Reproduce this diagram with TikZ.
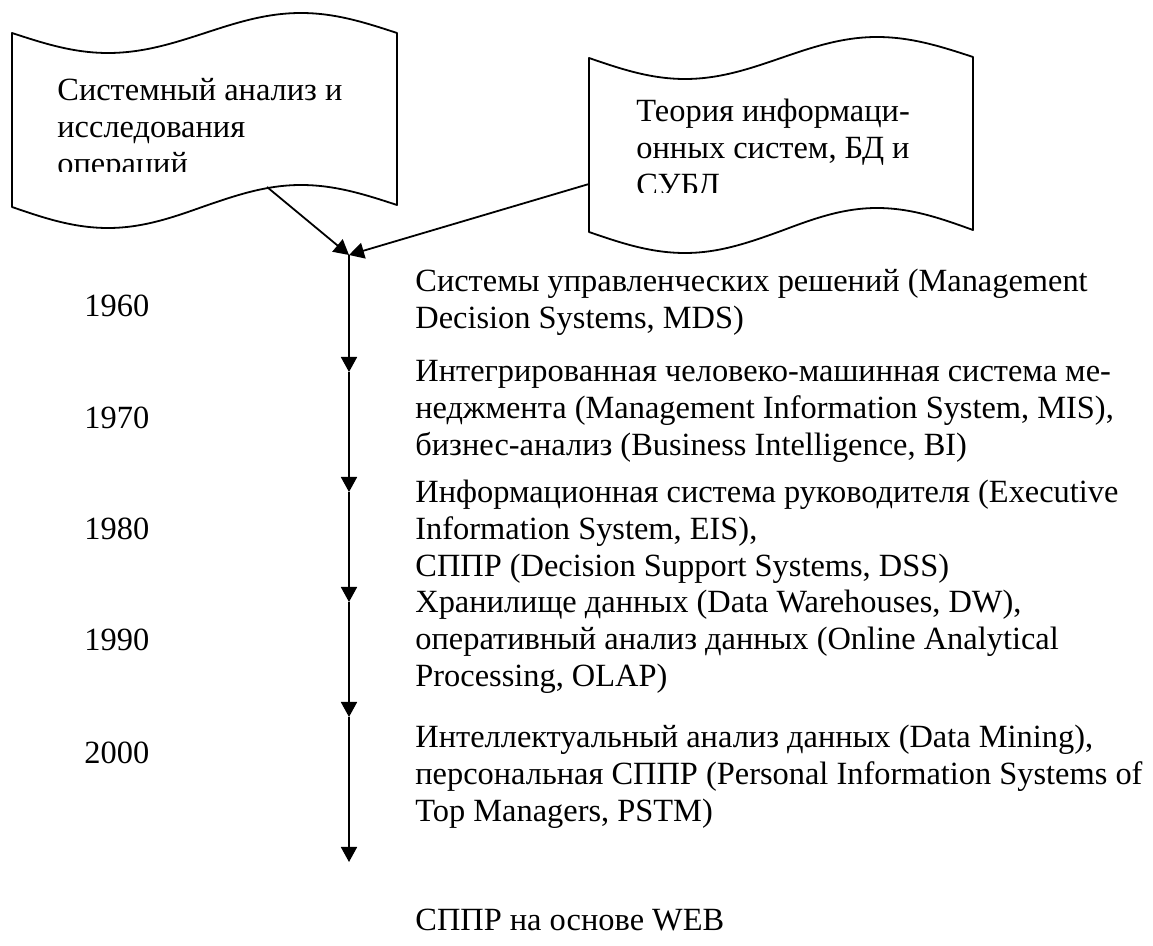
\documentclass[tikz,border=0pt]{standalone}
\usepackage{fontspec}
\setmainfont{Liberation Serif}
\usetikzlibrary{arrows.meta}

% several lines, first baseline as the node's base
\newcommand{\stack}[1]{\begin{tabular}[t]{@{}l@{}}#1\end{tabular}}

\tikzset{
  tapeline/.style={draw, line width=0.9pt, line join=round},
  txt/.style={anchor=base west, inner sep=0pt, font=\fontsize{16.2}{18.4}\selectfont},
  flow/.style={-{Triangle[length=7.5pt,width=8pt]}, line width=0.9pt},
}

\begin{document}
\begin{tikzpicture}[x=0.5pt, y=-0.5pt]
\useasboundingbox (0,0) rectangle (1153,946);

% two punched-tape sources
\draw[tapeline] (12,33) sin (108,53) cos (205,33) sin (301,13) cos (397,33)
  -- (397,205) sin (301,185) cos (205,206) sin (108,228) cos (12,207) -- cycle;
\draw[tapeline] (589,58) sin (685,79) cos (781,58) sin (877,37) cos (973,57)
  -- (973,230) sin (877,208) cos (781,231) sin (685,253) cos (589,232) -- cycle;

% their texts are cut off by the text frame
\begin{scope}
  \clip (12,0) rectangle (397,172);
  \node[txt] (sysan) at (57,101) {\stack{Системный анализ и\\исследования\\операций}};
\end{scope}
\begin{scope}
  \clip (589,0) rectangle (973,193);
  \node[txt] (theory) at (636,122) {\stack{Теория информаци-\\онных систем, БД и\\СУБД}};
\end{scope}

% connectors into the time axis
\coordinate (sysan-foot) at (267,187);
\coordinate (theory-side) at (589,184);
\coordinate (merge) at (349,255);
\coordinate (t1) at (349,372);
\coordinate (t2) at (349,492);
\coordinate (t3) at (349,602);
\coordinate (t4) at (349,717);
\coordinate (t5) at (349,862);

\draw[flow] (sysan-foot) -- (merge);
\draw[flow] (theory-side) -- (merge);
\draw[flow] (merge) -- (t1);
\draw[flow] (t1) -- (t2);
\draw[flow] (t2) -- (t3);
\draw[flow] (t3) -- (t4);
\draw[flow] (t4) -- (t5);

% years
\node[txt] (y1960) at (84,317) {1960};
\node[txt] (y1970) at (84,429) {1970};
\node[txt] (y1980) at (84,540) {1980};
\node[txt] (y1990) at (84,651) {1990};
\node[txt] (y2000) at (84,764) {2000};

% stages
\node[txt] (e1) at (415,292) {\stack{Системы управленческих решений (Management\\Decision Systems, MDS)}};
\node[txt] (e2) at (415,382) {\stack{Интегрированная человеко-машинная система ме-\\неджмента (Management Information System, MIS),\\бизнес-анализ (Business Intelligence, BI)}};
\node[txt] (e3) at (415,503) {\stack{Информационная система руководителя (Executive\\Information System, EIS),\\СППР (Decision Support Systems, DSS)}};
\node[txt] (e4) at (415,613) {\stack{Хранилище данных (Data Warehouses, DW),\\оперативный анализ данных (Online Analytical\\Processing, OLAP)}};
\node[txt] (e5) at (415,748) {\stack{Интеллектуальный анализ данных (Data Mining),\\персональная СППР (Personal Information Systems of\\Top Managers, PSTM)}};
\node[txt] (e6) at (415,930) {СППР на основе WEB};
\end{tikzpicture}
\end{document}
